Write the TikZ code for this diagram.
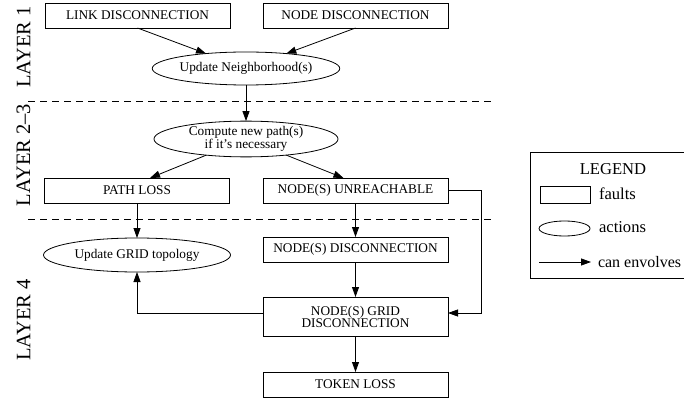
\documentclass[tikz,border=0pt]{standalone}
\usepackage{fontspec}
\setmainfont{Liberation Serif}
\usetikzlibrary{shapes.geometric,arrows.meta}
\begin{document}
\begin{tikzpicture}[x=1pt,y=-1pt,
  every node/.style={inner sep=0pt,outer sep=0pt},
  txt/.style={font=\fontsize{13.3}{12}\selectfont,align=center},
  fault/.style={txt,draw,line width=0.8pt,rectangle,minimum width=185pt,minimum height=25pt},
  action/.style={txt,draw,line width=0.8pt,ellipse,minimum width=186pt,minimum height=33pt},
  conn/.style={line width=0.8pt,-{Triangle[length=10pt,width=7pt]}},
  sep/.style={line width=0.8pt,dash pattern=on 7pt off 5pt},
  layer/.style={rotate=90,font=\fontsize{20.5}{22}\selectfont},
  legtxt/.style={font=\fontsize{16.6}{19}\selectfont}]
\useasboundingbox (0,0) rectangle (684,398);
% layer labels
\node[layer] (l1) at (23.5,47) {LAYER 1};
\node[layer] (l23) at (23.5,155) {LAYER 2--3};
\node[layer] (l4) at (23.5,320) {LAYER 4};
% separators
\coordinate (s1a) at (28,101); \coordinate (s1b) at (492,101);
\coordinate (s2a) at (28,219); \coordinate (s2b) at (492,219);
\draw[sep] (s1a) -- (s1b);
\draw[sep] (s2a) -- (s2b);
% nodes
\node[fault] (link) at (137.5,15.5) {LINK DISCONNECTION};
\node[fault] (nodedisc) at (355.5,15.5) {NODE DISCONNECTION};
\node[action] (neigh) at (246,68.5) {Update Neighborhood(s)};
\node[action,minimum width=184pt,minimum height=33pt] (compute) at (246,139) {Compute new path(s)\\if it's necessary};
\node[fault] (pathloss) at (137,190.5) {PATH LOSS};
\node[fault] (unreach) at (355.5,190.5) {NODE(S) UNREACHABLE};
\node[action,minimum width=187pt,minimum height=34pt] (gridtopo) at (137,255) {Update GRID topology};
\node[fault] (nodesdisc) at (355.5,249.5) {NODE(S) DISCONNECTION};
\node[fault,minimum height=39pt] (griddisc) at (355.5,316.5) {NODE(S) GRID\\DISCONNECTION};
\node[fault] (token) at (355.5,384.5) {TOKEN LOSS};
% connectors
\draw[conn] (link.south) -- (neigh);
\draw[conn] (nodedisc.south) -- (neigh);
\draw[conn] (neigh) -- (compute);
\draw[conn] (compute) -- ([xshift=13pt]pathloss.north);
\draw[conn] (compute) -- ([xshift=-12pt]unreach.north);
\draw[conn] (pathloss) -- (gridtopo);
\draw[conn] (unreach) -- (nodesdisc);
\draw[conn] (nodesdisc) -- (griddisc);
\draw[conn] (griddisc) -- (token);
\draw[conn] (unreach.east) -- ++(33,0) |- ([yshift=3.5pt]griddisc.east);
\draw[conn] ([yshift=3.5pt]griddisc.west) -| (gridtopo.south);
% legend
\node[draw,line width=0.8pt,minimum width=165pt,minimum height=126pt,anchor=north west] (legend) at (530,152) {};
\node[legtxt] (legtitle) at (613,169) {LEGEND};
\node[draw,line width=0.8pt,minimum width=50pt,minimum height=17pt] (legrect) at (565,194.5) {};
\node[legtxt,anchor=west] (legfaults) at (599,194) {faults};
\node[draw,line width=0.8pt,ellipse,minimum width=51pt,minimum height=15pt] (legell) at (564.5,228.5) {};
\node[legtxt,anchor=west] (legactions) at (599,227) {actions};
\coordinate (arra) at (539,262);
\coordinate (arrb) at (591,262);
\draw[conn] (arra) -- (arrb);
\node[legtxt,anchor=west,font=\fontsize{16}{19}\selectfont] (legcan) at (598,262) {can envolves};
\end{tikzpicture}
\end{document}
